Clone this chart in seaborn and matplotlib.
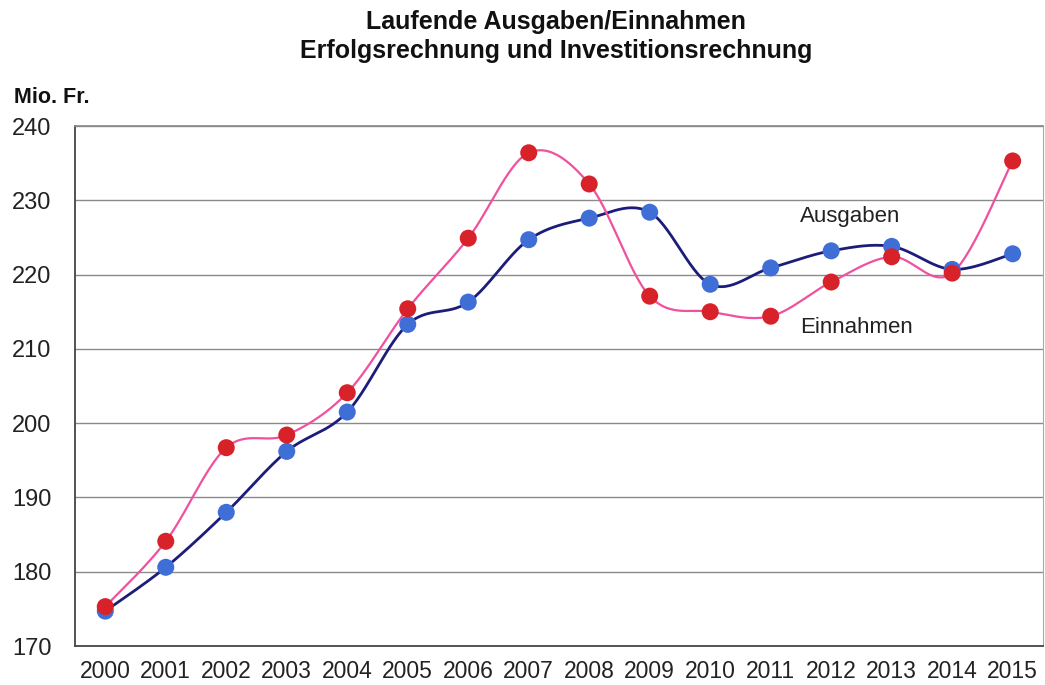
import numpy as np
import pandas as pd
import matplotlib
matplotlib.use("Agg")
import matplotlib.pyplot as plt
import seaborn as sns

years = [2000, 2001, 2002, 2003, 2004, 2005, 2006, 2007,
         2008, 2009, 2010, 2011, 2012, 2013, 2014, 2015]
ausgaben = [174.7, 180.6, 188.0, 196.2, 201.5, 213.3, 216.3, 224.7,
            227.6, 228.4, 218.7, 220.9, 223.2, 223.8, 220.7, 222.8]
einnahmen = [175.3, 184.1, 196.7, 198.4, 204.1, 215.4, 224.9, 236.4,
             232.2, 217.1, 215.0, 214.4, 219.0, 222.4, 220.2, 235.3]
yticks = [170, 180, 190, 200, 210, 220, 230, 240]

sns.set_theme(style="white")
plt.rcParams['font.family'] = ['Liberation Sans', 'DejaVu Sans']


def smooth(xs, ys, n=30):
    """Excel-like smoothed line (Catmull-Rom / Bezier with 1/6 tension)."""
    P = np.column_stack([xs, ys]).astype(float)
    k = len(P)
    out = []
    for i in range(k - 1):
        p0 = P[i - 1] if i > 0 else P[i]
        p1 = P[i]
        p2 = P[i + 1]
        p3 = P[i + 2] if i + 2 < k else P[i + 1]
        c1 = p1 + (p2 - p0) / 6.0
        c2 = p2 - (p3 - p1) / 6.0
        t = np.linspace(0, 1, n, endpoint=(i == k - 2))[:, None]
        b = ((1 - t) ** 3) * p1 + 3 * ((1 - t) ** 2) * t * c1 + 3 * (1 - t) * t ** 2 * c2 + t ** 3 * p2
        out.append(b)
    return np.vstack(out)


xpos = np.arange(len(years))
df = pd.DataFrame({"x": np.concatenate([xpos, xpos]),
                   "value": ausgaben + einnahmen,
                   "serie": ["Ausgaben"] * len(years) + ["Einnahmen"] * len(years)})

fig = plt.figure(figsize=(10.45, 6.85), dpi=100)
ax = fig.add_axes([0.0718, 0.0569, 0.9262, 0.7591])

line_cols = {"Einnahmen": "#f0509e", "Ausgaben": "#1c1c7a"}
mark_cols = {"Einnahmen": "#d8222a", "Ausgaben": "#3f6fd6"}

for name, vals in [("Einnahmen", einnahmen), ("Ausgaben", ausgaben)]:
    c = smooth(xpos, vals)
    sns.lineplot(x=c[:, 0], y=c[:, 1], sort=False, ax=ax, color=line_cols[name],
                 lw=1.6 if name == "Einnahmen" else 2.0, zorder=3 if name == "Einnahmen" else 2)

sns.scatterplot(data=df[df.serie == "Ausgaben"], x="x", y="value", ax=ax,
                color=mark_cols["Ausgaben"], s=150, edgecolor="none", zorder=4, legend=False)
sns.scatterplot(data=df[df.serie == "Einnahmen"], x="x", y="value", ax=ax,
                color=mark_cols["Einnahmen"], s=150, edgecolor="none", zorder=5, legend=False)

ax.set_xlim(-0.5, len(years) - 0.5)
ax.set_ylim(170, 240)
ax.set_yticks(yticks)
ax.set_yticklabels([str(v) for v in yticks], fontsize=17, color="#222222")
ax.set_xticks(xpos)
ax.set_xticklabels([str(y) for y in years], fontsize=16.5, color="#222222")
ax.set_xticks(np.arange(-0.5, len(years)), minor=True)
ax.tick_params(axis="x", which="major", length=0, pad=10)
ax.tick_params(axis="x", which="minor", length=6, width=1, color="#555555", direction="out")
ax.tick_params(axis="y", which="major", length=5, width=1, color="#555555", direction="out", pad=12)
ax.set_xlabel("")
ax.set_ylabel("")

for y in yticks[1:]:
    ax.axhline(y, color="#8a8a8a", lw=1.0, zorder=1)

for s in ["left", "bottom"]:
    ax.spines[s].set_color("#444444")
    ax.spines[s].set_linewidth(1.3)
ax.spines["top"].set_color("#8a8a8a")
ax.spines["right"].set_color("#aaaaaa")
ax.spines["right"].set_linewidth(0.8)

ax.text(11.48, 227.8, "Ausgaben", fontsize=16, color="#222222", ha="left", va="center")
ax.text(11.48, 212.9, "Einnahmen", fontsize=16, color="#222222", ha="left", va="center")

fig.text(0.532, 0.968, "Laufende Ausgaben/Einnahmen", ha="center", va="center",
         fontsize=18, fontweight="bold", color="#111111")
fig.text(0.532, 0.925, "Erfolgsrechnung und Investitionsrechnung", ha="center", va="center",
         fontsize=18, fontweight="bold", color="#111111")
fig.text(0.013, 0.857, "Mio. Fr.", ha="left", va="center", fontsize=15.5,
         fontweight="bold", color="#111111")

fig.savefig("out.png", dpi=100, facecolor="white")
